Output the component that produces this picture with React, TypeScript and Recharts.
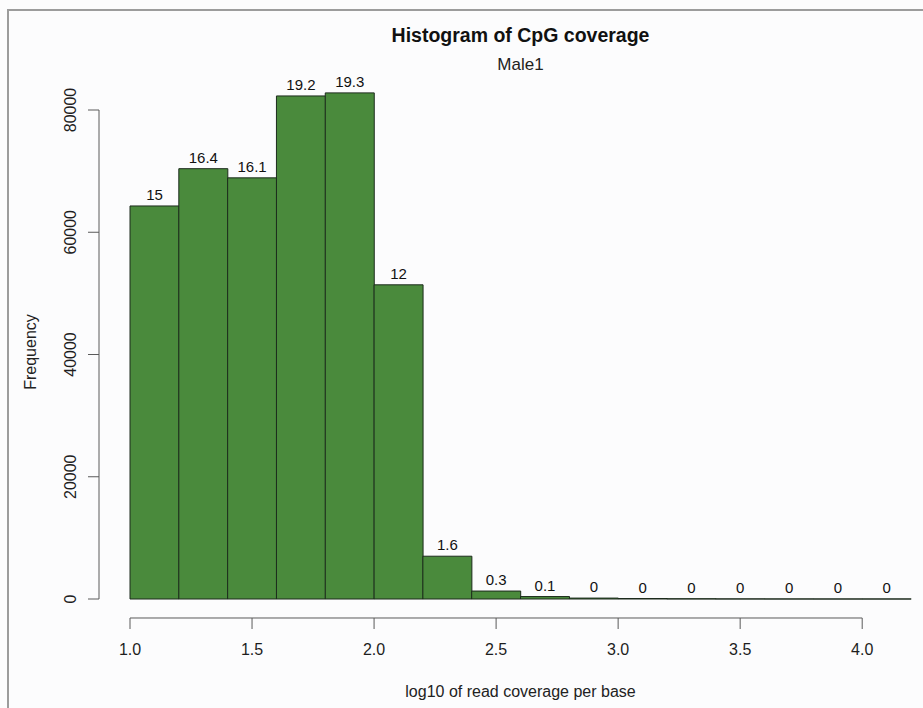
import React from "react"
import { BarChart, Bar, XAxis, YAxis, ReferenceLine, LabelList } from "recharts"

// histogram bins (log10 coverage), left edges
const binStarts = [1.0, 1.2, 1.4, 1.6, 1.8, 2.0, 2.2, 2.4, 2.6, 2.8, 3.0, 3.2, 3.4, 3.6, 3.8, 4.0]
const binWidth = 0.2
const counts = [64300, 70400, 68900, 82300, 82800, 51400, 7000, 1300, 400, 150, 80, 40, 20, 10, 5, 3]
const percentLabels = ["15", "16.4", "16.1", "19.2", "19.3", "12", "1.6", "0.3", "0.1", "0", "0", "0", "0", "0", "0", "0"]

const xTicks = [1.0, 1.5, 2.0, 2.5, 3.0, 3.5, 4.0]
const yTicks = [0, 20000, 40000, 60000, 80000]

const data = binStarts.map((start, i) => ({
  mid: start + binWidth / 2,
  count: counts[i],
  pct: percentLabels[i],
}))

const axisColor = "#5a5a5a"
const textColor = "#1e1e1e"

const XTick = (props: any) => {
  const { x, y, payload } = props
  return (
    <g>
      <line x1={x} x2={x} y1={y + 19} y2={y + 30} stroke={axisColor} />
      <text x={x} y={y + 56} textAnchor="middle" fontSize={16} fill={textColor}>
        {Number(payload.value).toFixed(1)}
      </text>
    </g>
  )
}

const YTick = (props: any) => {
  const { x, y, payload } = props
  return (
    <g>
      <line x1={x - 31} x2={x - 42} y1={y} y2={y} stroke={axisColor} />
      <text
        x={x - 54}
        y={y}
        transform={`rotate(-90, ${x - 54}, ${y})`}
        textAnchor="middle"
        fontSize={16}
        fill={textColor}
      >
        {payload.value}
      </text>
    </g>
  )
}

export default function App() {
  return (
    <div
      style={{
        position: "absolute",
        left: 0,
        top: 0,
        width: 923,
        height: 708,
        overflow: "hidden",
        background: "#fcfcfd",
        fontFamily: "'Liberation Sans', Arial, sans-serif",
      }}
    >
      <div
        style={{
          position: "absolute",
          left: 7,
          top: 9,
          width: 920,
          height: 705,
          borderTop: "2px solid #9c9c9c",
          borderLeft: "2px solid #9c9c9c",
        }}
      />
      <div
        style={{
          position: "absolute",
          left: 130,
          width: 781,
          top: 25.5,
          fontSize: 19.5,
          lineHeight: "19.5px",
          fontWeight: "bold",
          textAlign: "center",
          color: "#111",
        }}
      >
        Histogram of CpG coverage
      </div>
      <div
        style={{
          position: "absolute",
          left: 130,
          width: 781,
          top: 55.6,
          fontSize: 17,
          lineHeight: "17px",
          textAlign: "center",
          color: "#222",
        }}
      >
        Male1
      </div>
      <div
        style={{
          position: "absolute",
          left: 130,
          width: 781,
          top: 683.5,
          fontSize: 16,
          lineHeight: "16px",
          textAlign: "center",
          color: "#222",
        }}
      >
        log10 of read coverage per base
      </div>
      <div
        style={{
          position: "absolute",
          left: 31,
          top: 352,
          fontSize: 16,
          lineHeight: "16px",
          color: "#222",
          transform: "translate(-50%, -50%) rotate(-90deg)",
          transformOrigin: "50% 50%",
          whiteSpace: "nowrap",
        }}
      >
        Frequency
      </div>
      <div style={{ position: "absolute", left: 0, top: 0 }}>
        <BarChart
          width={923}
          height={708}
          data={data}
          margin={{ top: 79.44, right: 12, left: 0, bottom: 0 }}
          barCategoryGap={0}
          barGap={0}
        >
          <XAxis
            dataKey="mid"
            type="number"
            domain={[1, 4.2]}
            ticks={xTicks}
            interval={0}
            height={109}
            axisLine={false}
            tickLine={false}
            tickSize={0}
            tickMargin={0}
            tick={<XTick />}
          />
          <YAxis
            type="number"
            domain={[0, 85000]}
            ticks={yTicks}
            interval={0}
            width={130}
            axisLine={false}
            tickLine={false}
            tickSize={0}
            tickMargin={0}
            tick={<YTick />}
          />
          <ReferenceLine
            segment={[{ x: 1, y: -3108 }, { x: 4, y: -3108 }]}
            stroke={axisColor}
            ifOverflow="visible"
          />
          <ReferenceLine
            segment={[{ x: 0.873, y: 0 }, { x: 0.873, y: 80000 }]}
            stroke={axisColor}
            ifOverflow="visible"
          />
          <Bar dataKey="count" fill="#4a8a3c" stroke="#1c2b1c" strokeWidth={1} isAnimationActive={false}>
            <LabelList dataKey="pct" position="top" offset={6} fontSize={15} fill="#111" />
          </Bar>
        </BarChart>
      </div>
    </div>
  )
}
